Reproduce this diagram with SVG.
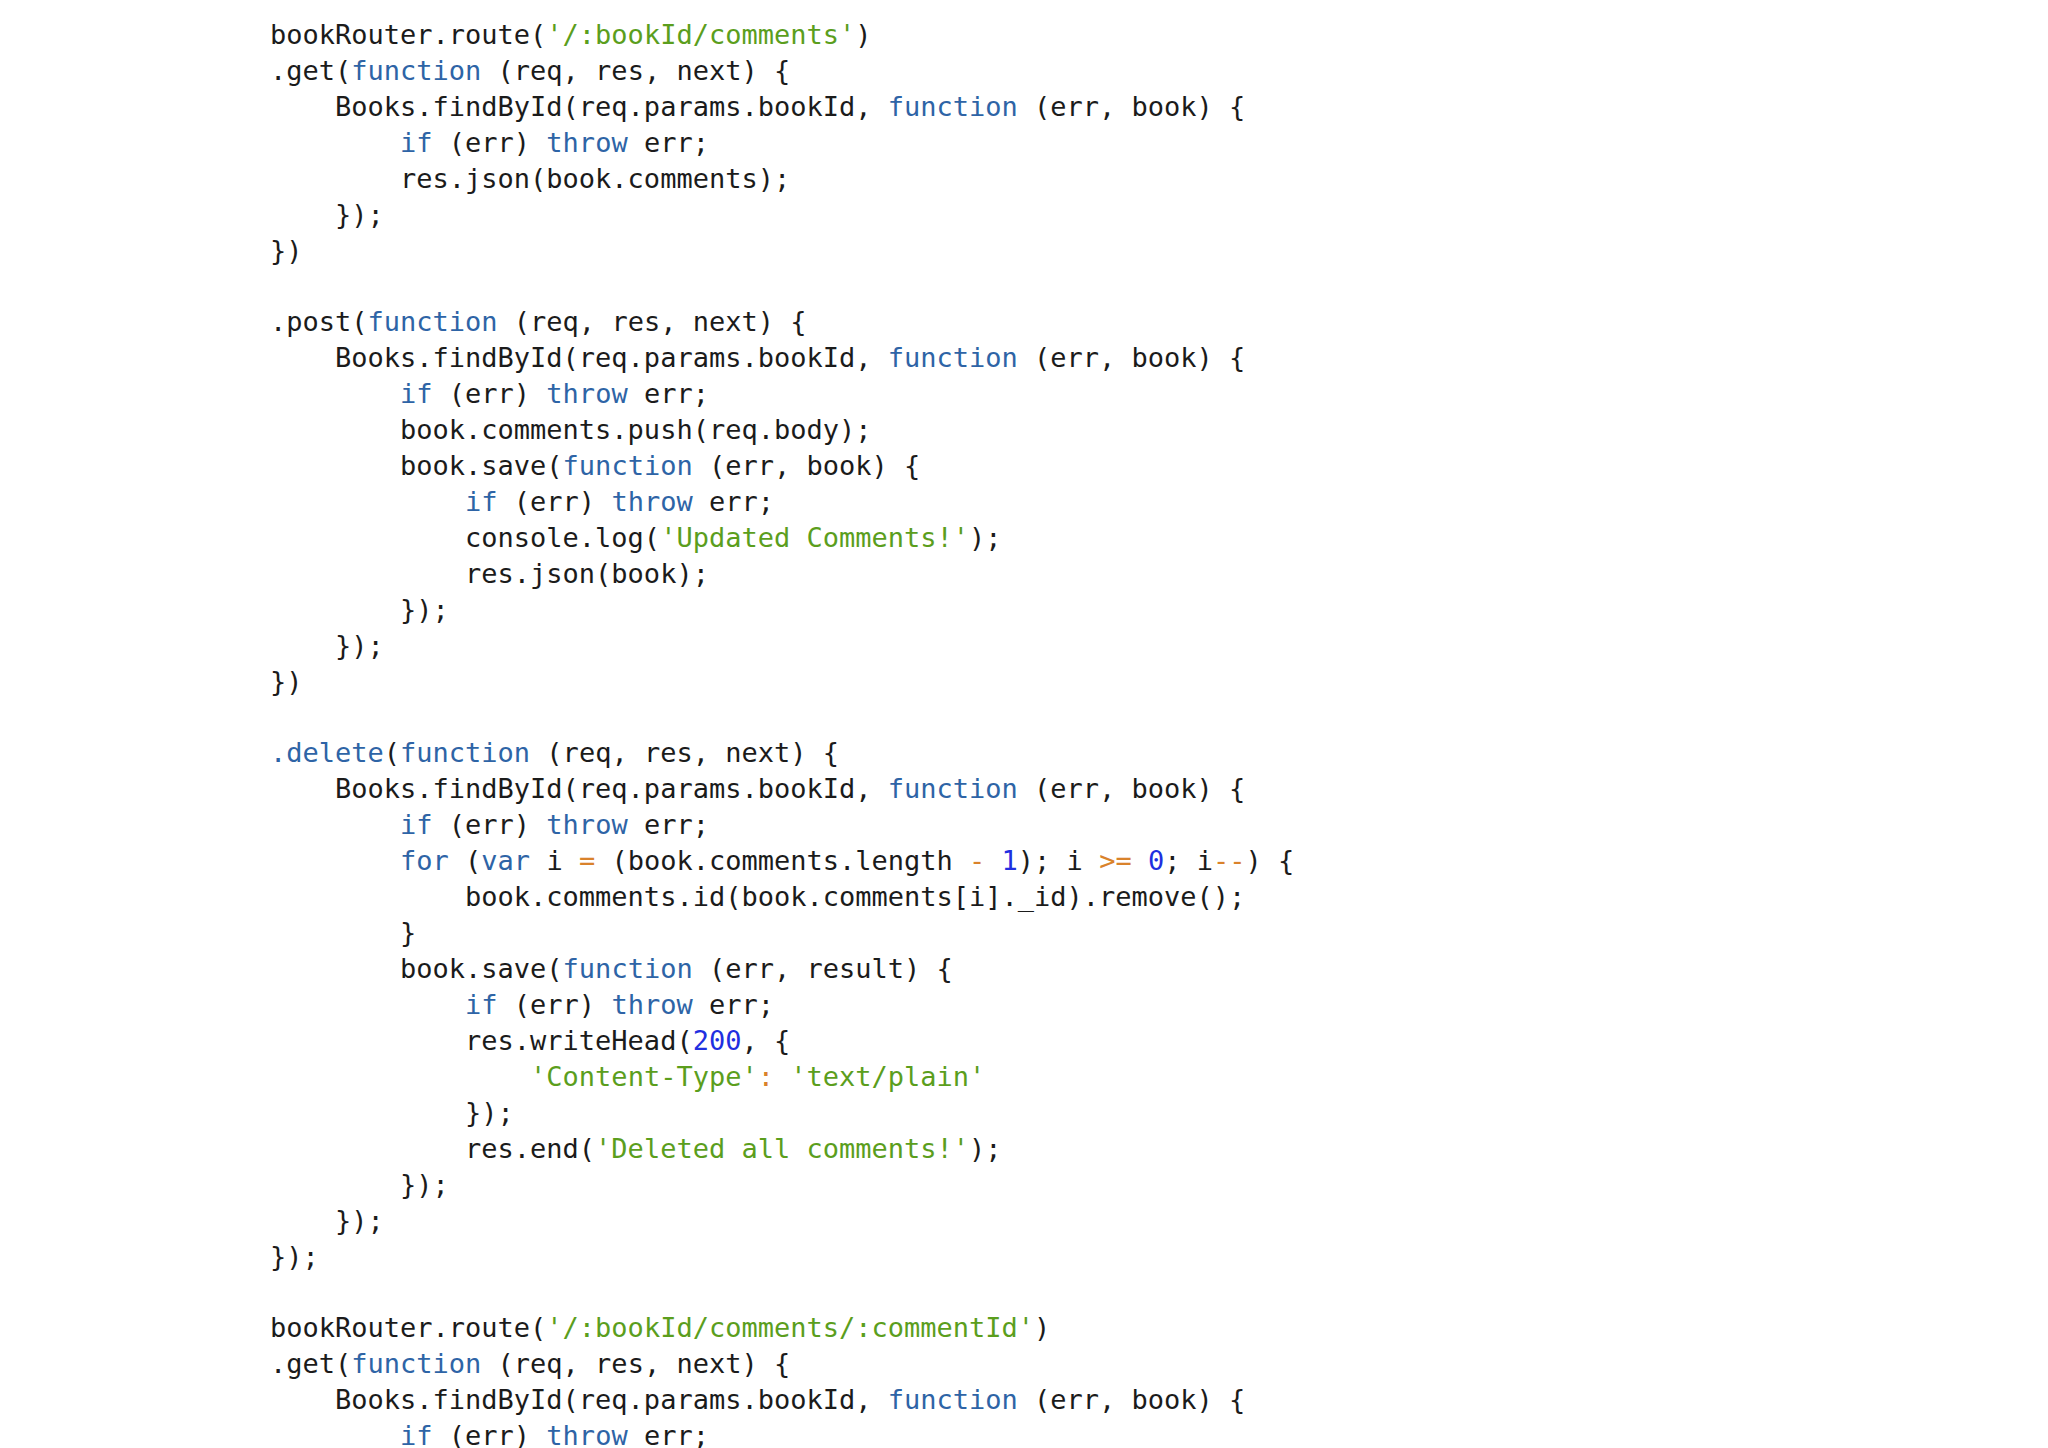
<svg xmlns="http://www.w3.org/2000/svg" width="2048" height="1448" viewBox="0 0 2048 1448">
<style>
text{font-family:"DejaVu Sans Mono","Liberation Mono",monospace;font-size:27px;fill:#1b1b1b;white-space:pre}
.k{fill:#2e64a6}.s{fill:#5b9e1d}.o{fill:#d9822b}.n{fill:#1f2fe0}
</style>
<rect width="2048" height="1448" fill="#fff"/>
<g id="code" xml:space="preserve">
<text x="270" y="44">bookRouter.route(<tspan class="s">'/:bookId/comments'</tspan>)</text>
<text x="270" y="80">.get(<tspan class="k">function</tspan> (req, res, next) {</text>
<text x="270" y="116">    Books.findById(req.params.bookId, <tspan class="k">function</tspan> (err, book) {</text>
<text x="270" y="152">        <tspan class="k">if</tspan> (err) <tspan class="k">throw</tspan> err;</text>
<text x="270" y="188">        res.json(book.comments);</text>
<text x="270" y="224">    });</text>
<text x="270" y="260">})</text>
<text x="270" y="331">.post(<tspan class="k">function</tspan> (req, res, next) {</text>
<text x="270" y="367">    Books.findById(req.params.bookId, <tspan class="k">function</tspan> (err, book) {</text>
<text x="270" y="403">        <tspan class="k">if</tspan> (err) <tspan class="k">throw</tspan> err;</text>
<text x="270" y="439">        book.comments.push(req.body);</text>
<text x="270" y="475">        book.save(<tspan class="k">function</tspan> (err, book) {</text>
<text x="270" y="511">            <tspan class="k">if</tspan> (err) <tspan class="k">throw</tspan> err;</text>
<text x="270" y="547">            console.log(<tspan class="s">'Updated Comments!'</tspan>);</text>
<text x="270" y="583">            res.json(book);</text>
<text x="270" y="619">        });</text>
<text x="270" y="655">    });</text>
<text x="270" y="691">})</text>
<text x="270" y="762"><tspan class="k">.delete</tspan>(<tspan class="k">function</tspan> (req, res, next) {</text>
<text x="270" y="798">    Books.findById(req.params.bookId, <tspan class="k">function</tspan> (err, book) {</text>
<text x="270" y="834">        <tspan class="k">if</tspan> (err) <tspan class="k">throw</tspan> err;</text>
<text x="270" y="870">        <tspan class="k">for</tspan> (<tspan class="k">var</tspan> i <tspan class="o">=</tspan> (book.comments.length <tspan class="o">-</tspan> <tspan class="n">1</tspan>); i <tspan class="o">&gt;=</tspan> <tspan class="n">0</tspan>; i<tspan class="o">--</tspan>) {</text>
<text x="270" y="906">            book.comments.id(book.comments[i]._id).remove();</text>
<text x="270" y="942">        }</text>
<text x="270" y="978">        book.save(<tspan class="k">function</tspan> (err, result) {</text>
<text x="270" y="1014">            <tspan class="k">if</tspan> (err) <tspan class="k">throw</tspan> err;</text>
<text x="270" y="1050">            res.writeHead(<tspan class="n">200</tspan>, {</text>
<text x="270" y="1086">                <tspan class="s">'Content-Type'</tspan><tspan class="o">:</tspan> <tspan class="s">'text/plain'</tspan></text>
<text x="270" y="1122">            });</text>
<text x="270" y="1158">            res.end(<tspan class="s">'Deleted all comments!'</tspan>);</text>
<text x="270" y="1194">        });</text>
<text x="270" y="1230">    });</text>
<text x="270" y="1266">});</text>
<text x="270" y="1337">bookRouter.route(<tspan class="s">'/:bookId/comments/:commentId'</tspan>)</text>
<text x="270" y="1373">.get(<tspan class="k">function</tspan> (req, res, next) {</text>
<text x="270" y="1409">    Books.findById(req.params.bookId, <tspan class="k">function</tspan> (err, book) {</text>
<text x="270" y="1445">        <tspan class="k">if</tspan> (err) <tspan class="k">throw</tspan> err;</text>
</g>
</svg>
